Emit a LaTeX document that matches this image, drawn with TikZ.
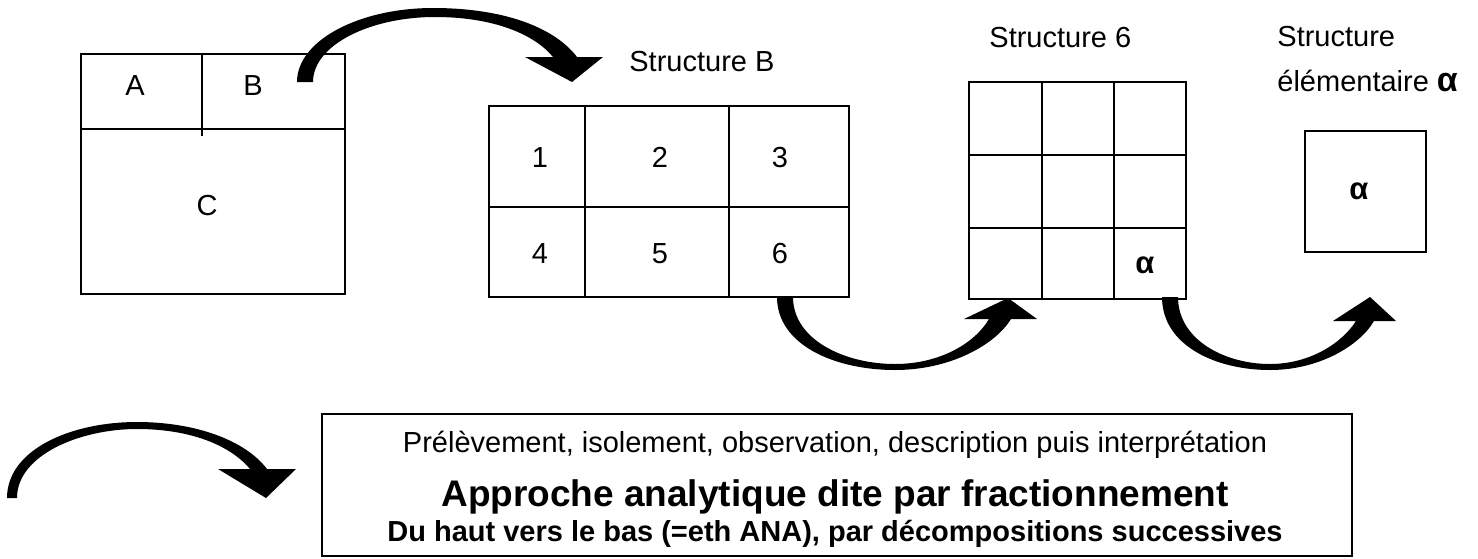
\documentclass[tikz,border=0pt]{standalone}
\usepackage{fontspec}
\setmainfont{Liberation Sans}
\begin{document}
\begin{tikzpicture}[x=0.5pt,y=-0.5pt,
  frame/.style={line width=1pt},
  lbl/.style={font=\fontsize{14.5}{17}\selectfont, anchor=base, inner sep=0pt},
  lblw/.style={lbl, anchor=base west},
  alph/.style={font=\fontsize{15.5}{18}\selectfont\bfseries, anchor=base, inner sep=0pt},
  bent/.style={fill=black, draw=none}]
\useasboundingbox (0,0) rectangle (1478,558);
\fill[white] (0,0) rectangle (1478,558);

% Whole structure split into A, B and C
\draw[frame] (81,54) rectangle (345,294);
\draw[frame] (81,129) -- (345,129);
\draw[frame] (202,54) -- (202,136);
\node[lbl] (tA) at (135,95) {A};
\node[lbl] (tB) at (253,95) {B};
\node[lbl] (tC) at (207,215) {C};

% Structure B: 2 x 3 cells
\node[lblw] (hB) at (629,71) {Structure B};
\draw[frame] (489,106) rectangle (849,297);
\draw[frame] (489,207) -- (849,207);
\draw[frame] (585,106) -- (585,297);
\draw[frame] (729,106) -- (729,297);
\node[lbl] (n1) at (540,167) {1};
\node[lbl] (n2) at (660,167) {2};
\node[lbl] (n3) at (780,167) {3};
\node[lbl] (n4) at (540,263) {4};
\node[lbl] (n5) at (660,263) {5};
\node[lbl] (n6) at (780,263) {6};

% Structure 6: 3 x 3 cells
\node[lblw] (h6) at (989,47) {Structure 6};
\draw[frame] (969,82) rectangle (1186,299);
\draw[frame] (969,155) -- (1186,155);
\draw[frame] (969,228) -- (1186,228);
\draw[frame] (1042,82) -- (1042,299);
\draw[frame] (1114,82) -- (1114,299);
\node[alph] (a6) at (1145,273) {α};

% Elementary structure alpha
\node[lblw] (he1) at (1277,46) {Structure};
\node[lblw] (he2) at (1277,91) {élémentaire {\fontsize{17}{20}\selectfont\bfseries α}};
\draw[frame] (1305,131) rectangle (1426,252);
\node[alph] (aa) at (1359,199) {α};

% Curved arrows between the stages
\fill[bent] (297,82) .. controls (297,40) and (360,8) .. (433,8)
  .. controls (505,8) and (555,28) .. (577,57) -- (603,57) -- (572,82) -- (525,57) -- (553,57)
  .. controls (535,35) and (495,17) .. (435,17)
  .. controls (370,17) and (313,45) .. (313,82) -- cycle;
\fill[bent] (777,297) .. controls (777,345) and (835,370) .. (895,370)
  .. controls (950,370) and (995,345) .. (1011,319) -- (1037,319) -- (1008,298) -- (964,319) -- (989,319)
  .. controls (975,343) and (940,364) .. (895,364)
  .. controls (845,364) and (793,340) .. (793,297) -- cycle;
\fill[bent] (1162,297) .. controls (1162,345) and (1215,370) .. (1270,370)
  .. controls (1320,370) and (1360,345) .. (1374,321) -- (1396,321) -- (1370,297) -- (1333,321) -- (1356,321)
  .. controls (1342,343) and (1310,364) .. (1270,364)
  .. controls (1225,364) and (1178,340) .. (1178,297) -- cycle;
\fill[bent] (7,498) .. controls (7,450) and (70,422) .. (137,422)
  .. controls (195,422) and (245,440) .. (267,469) -- (296,469) -- (266,498) -- (218,469) -- (250,469)
  .. controls (230,445) and (190,429) .. (137,429)
  .. controls (80,429) and (17,455) .. (17,498) -- cycle;

% Caption box
\draw[frame] (322,414) rectangle (1352,556);
\node[lbl] (c1) at (835,452) {Prélèvement, isolement, observation, description puis interprétation};
\node[lbl, font=\fontsize{18.5}{22}\selectfont\bfseries] (c2) at (835,506) {Approche analytique dite par fractionnement};
\node[lbl, font=\fontsize{14.5}{17}\selectfont\bfseries] (c3) at (835,541) {Du haut vers le bas (=eth ANA), par décompositions successives};
\end{tikzpicture}
\end{document}
